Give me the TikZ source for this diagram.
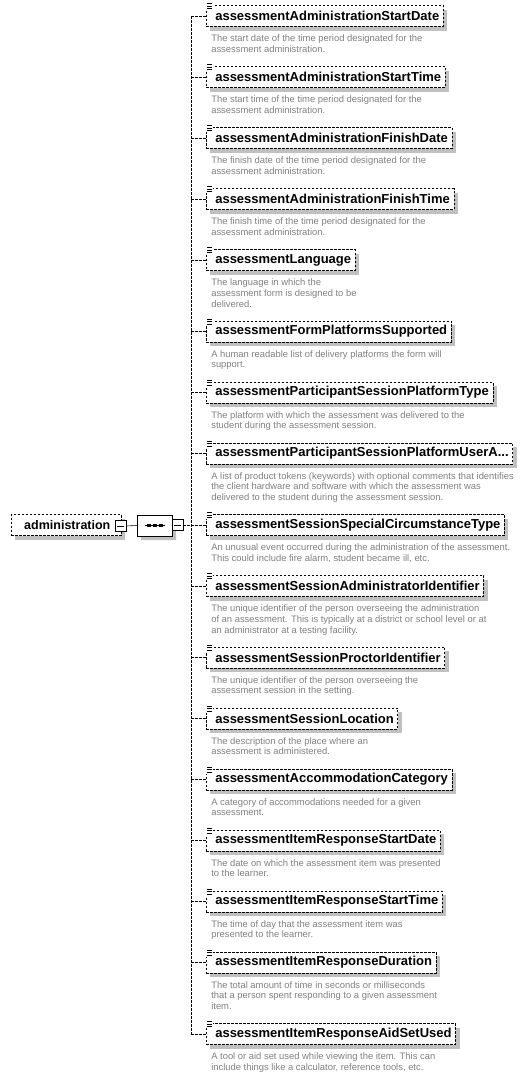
\documentclass[tikz,border=0pt]{standalone}
\usepackage{fontspec}
\setmainfont{Liberation Sans}
\usepackage{xcolor}
\usetikzlibrary{shapes.misc}
\definecolor{shadowgray}{RGB}{192,192,192}
\definecolor{docgray}{RGB}{128,128,128}

\tikzset{
  elem/.style={draw, dash pattern=on 2.5pt off 1.5pt, fill=white, anchor=west,
    minimum height=21pt, inner xsep=4pt, inner ysep=0pt,
    font=\fontsize{13}{14}\selectfont\bfseries,
    execute at begin node={\hspace*{5pt}},
    preaction={draw=none, fill=shadowgray, transform canvas={shift={(4pt,-4pt)}}}},
  doc/.style={anchor=north west, inner sep=0pt, align=left, text=docgray,
    font=\fontsize{9.4}{10.8}\selectfont},
  link/.style={dash pattern=on 2.5pt off 1.5pt},
  minusbox/.style={draw, solid, fill=white, minimum width=11pt, minimum height=11pt, inner sep=0pt},
}

% the small "element" glyph on the corner of a box
\newcommand{\elemicon}[1]{
  \fill[white] ([shift={(0,2)}]#1.north west) rectangle ++(7,-7);
  \foreach \d in {0,2.5,5}
    \draw[line width=0.7pt] ([shift={(0.5,1.5-\d)}]#1.north west) -- ++(5.5,0);
}
\newcommand{\minussign}[1]{
  \draw ([xshift=2]#1.west) -- ([xshift=-2]#1.east);
}

\begin{document}
\begin{tikzpicture}[x=1pt,y=1pt,line width=0.6pt]
  \useasboundingbox (0,0) rectangle (530,-1079);

  % root and sequence
  \node[elem, inner xsep=5pt, minimum width=110pt, font=\fontsize{12.5}{14}\selectfont\bfseries,
    execute at begin node={\hspace*{-3pt}}] at (11,-525) (root) {administration};
  \node[minusbox] at (120.5,-526) (rootminus) {};
  \minussign{rootminus}
  \node[draw, solid, fill=white, chamfered rectangle, chamfered rectangle xsep=5pt,
    chamfered rectangle ysep=5pt,
    minimum width=35pt, minimum height=21pt, inner sep=0pt,
    preaction={draw=none, fill=shadowgray, transform canvas={shift={(4pt,-4pt)}}}]
    at (154.5,-525.5) (seq) {};
  \draw ([xshift=-10]seq.center) -- ([xshift=10]seq.center);
  \foreach \d in {-6,0,6}
    \fill ([shift={(\d-2,-1.5)}]seq.center) rectangle ++(4,3);
  \node[minusbox] at (177.5,-525) (seqminus) {};
  \minussign{seqminus}
  \draw (rootminus.east) -- (seq.west);

  \coordinate (trunk) at (191,-525);
  \coordinate (ttop) at (191,-16);
  \coordinate (tbot) at (191,-1034);
  \draw[link] (seqminus.east) -- (trunk);
  \draw[link] (ttop) -- (tbot);

  % children
  \node[elem] at (206,-16) (e1) {assessmentAdministrationStartDate};
  \node[doc] at (211,-34.5) (d1) {The start date of the time period designated for the\\assessment administration.};
  \node[elem] at (206,-77) (e2) {assessmentAdministrationStartTime};
  \node[doc] at (211,-95.5) (d2) {The start time of the time period designated for the\\assessment administration.};
  \node[elem] at (206,-138) (e3) {assessmentAdministrationFinishDate};
  \node[doc] at (211,-156.5) (d3) {The finish date of the time period designated for the\\assessment administration.};
  \node[elem] at (206,-199) (e4) {assessmentAdministrationFinishTime};
  \node[doc] at (211,-217.5) (d4) {The finish time of the time period designated for the\\assessment administration.};
  \node[elem] at (206,-260) (e5) {assessmentLanguage};
  \node[doc] at (211,-278.5) (d5) {The language in which the\\assessment form is designed to be\\delivered.};
  \node[elem] at (206,-331.5) (e6) {assessmentFormPlatformsSupported};
  \node[doc] at (211,-350) (d6) {A human readable list of delivery platforms the form will\\support.};
  \node[elem] at (206,-392.5) (e7) {assessmentParticipantSessionPlatformType};
  \node[doc] at (211,-411) (d7) {The platform with which the assessment was delivered to the\\student during the assessment session.};
  \node[elem] at (206,-453.5) (e8) {assessmentParticipantSessionPlatformUserA...};
  \node[doc] at (211,-472) (d8) {A list of product tokens (keywords) with optional comments that identifies\\the client hardware and software with which the assessment was\\delivered to the student during the assessment session.};
  \node[elem] at (206,-525) (e9) {assessmentSessionSpecialCircumstanceType};
  \node[doc] at (211,-543.5) (d9) {An unusual event occurred during the administration of the assessment.\\This could include fire alarm, student became ill, etc.};
  \node[elem] at (206,-586) (e10) {assessmentSessionAdministratorIdentifier};
  \node[doc] at (211,-604.5) (d10) {The unique identifier of the person overseeing the administration\\of an assessment. This is typically at a district or school level or at\\an administrator at a testing facility.};
  \node[elem] at (206,-657.5) (e11) {assessmentSessionProctorIdentifier};
  \node[doc] at (211,-676) (d11) {The unique identifier of the person overseeing the\\assessment session in the setting.};
  \node[elem] at (206,-718.5) (e12) {assessmentSessionLocation};
  \node[doc] at (211,-737) (d12) {The description of the place where an\\assessment is administered.};
  \node[elem] at (206,-779.5) (e13) {assessmentAccommodationCategory};
  \node[doc] at (211,-798) (d13) {A category of accommodations needed for a given\\assessment.};
  \node[elem] at (206,-840.5) (e14) {assessmentItemResponseStartDate};
  \node[doc] at (211,-859) (d14) {The date on which the assessment item was presented\\to the learner.};
  \node[elem] at (206,-901.5) (e15) {assessmentItemResponseStartTime};
  \node[doc] at (211,-920) (d15) {The time of day that the assessment item was\\presented to the learner.};
  \node[elem] at (206,-962.5) (e16) {assessmentItemResponseDuration};
  \node[doc] at (211,-981) (d16) {The total amount of time in seconds or milliseconds\\that a person spent responding to a given assessment\\item.};
  \node[elem] at (206,-1034) (e17) {assessmentItemResponseAidSetUsed};
  \node[doc] at (211,-1052.5) (d17) {A tool or aid set used while viewing the item. This can\\include things like a calculator, reference tools, etc.};

  \foreach \n in {e1,e2,e3,e4,e5,e6,e7,e8,e9,e10,e11,e12,e13,e14,e15,e16,e17}{
    \draw[link] (\n.west -| trunk) -- (\n.west);
    \elemicon{\n}
  }

\end{tikzpicture}
\end{document}
